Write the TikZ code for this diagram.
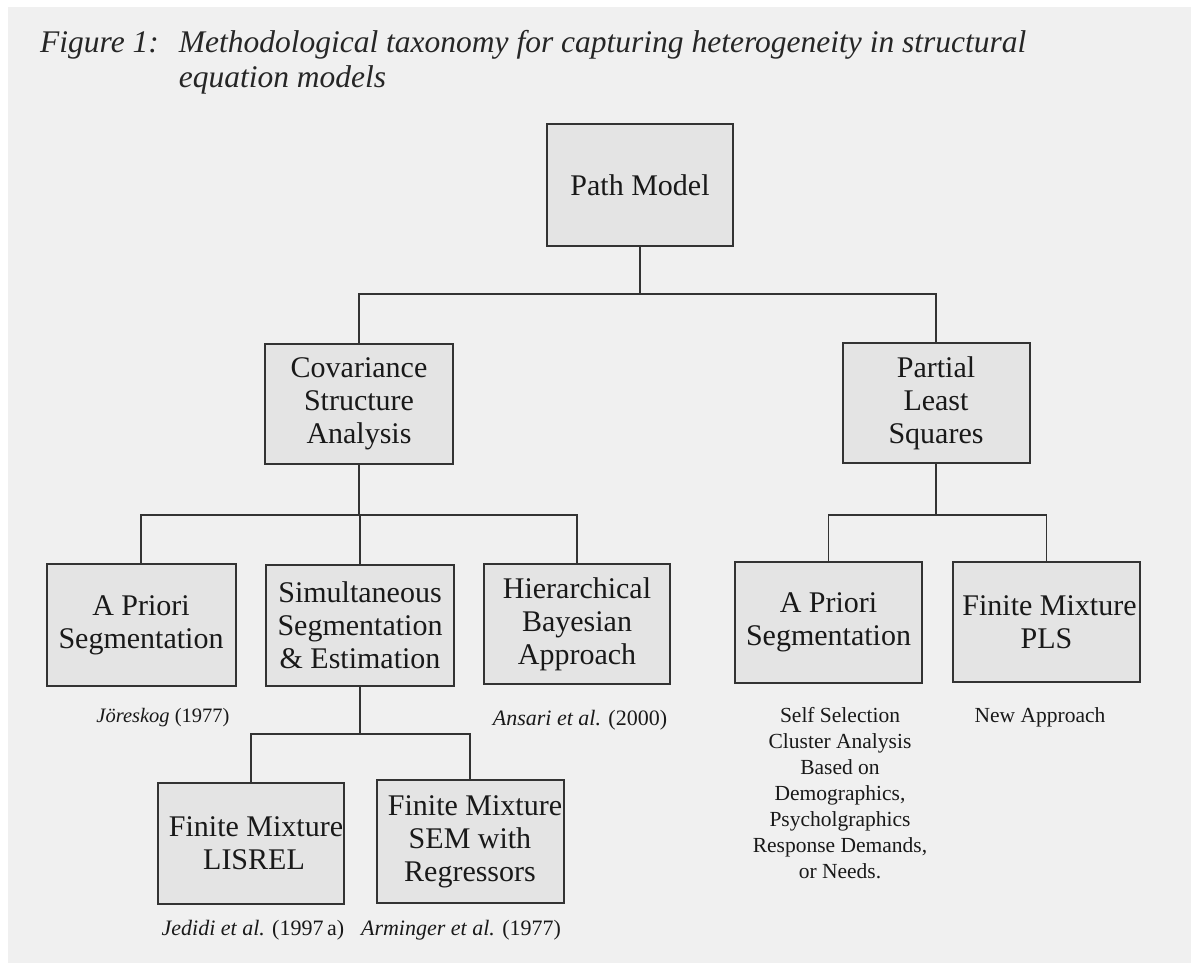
\documentclass[tikz,border=0pt]{standalone}
\usepackage{fontspec}
\setmainfont{Liberation Serif}
\definecolor{pagebg}{HTML}{F0F0F0}
\definecolor{boxfill}{HTML}{E4E4E4}
\definecolor{ink}{HTML}{333333}
\begin{document}
\begin{tikzpicture}[x=1pt,y=-1pt,
  box/.style={draw=ink, line width=2pt, fill=boxfill, align=center, inner sep=0pt,
    font=\fontsize{30}{33}\selectfont, text=black!90},
  conn/.style={draw=ink, line width=1.7pt},
  cite/.style={inner sep=0pt, font=\fontsize{22}{26}\selectfont, text=black!90},
  note/.style={inner sep=0pt, align=center, font=\fontsize{21.5}{26}\selectfont, text=black!90}]
\useasboundingbox (0,0) rectangle (1197,970);
\fill[white] (0,0) rectangle (1197,970);
\fill[pagebg] (8,7) rectangle (1191,963);

% title
\node[anchor=base west, inner sep=0pt, font=\fontsize{31.5}{35}\selectfont\itshape, text=black!85] (title) at (40,52)
  {\begin{tabular}[t]{@{}l@{\hspace{20pt}}l@{}}Figure 1: & Methodological taxonomy for capturing heterogeneity in structural\\
   & equation models\end{tabular}};

% boxes
\node[box, minimum width=186pt, minimum height=122pt] (pm)   at (640,185)   {Path Model};
\node[box, minimum width=188pt, minimum height=120pt] (csa)  at (359,404)   {Covariance\\Structure\\Analysis};
\node[box, minimum width=187pt, minimum height=120pt] (pls)  at (936,403)   {Partial\\Least\\Squares};
\node[box, minimum width=189pt, minimum height=122pt] (aps1) at (141,625)   {A Priori\\Segmentation};
\node[box, minimum width=188pt, minimum height=121pt] (sse)  at (360,625)   {Simultaneous\\Segmentation\\\& Estimation};
\node[box, minimum width=186pt, minimum height=120pt] (hba)  at (577,624)   {Hierarchical\\Bayesian\\Approach};
\node[box, minimum width=186pt, minimum height=121pt] (fml)  at (251,843.5) {\hspace*{10pt}Finite Mixture\\\hspace*{6pt}LISREL};
\node[box, minimum width=187pt, minimum height=123pt] (fms)  at (470,841.5) {\hspace*{10pt}Finite Mixture\\SEM with\\Regressors};
\node[box, minimum width=187pt, minimum height=121pt] (aps2) at (828.5,622.5) {A Priori\\Segmentation};
\node[box, minimum width=187pt, minimum height=120pt] (fmp)  at (1046.5,622) {\hspace*{6pt}Finite Mixture\\PLS};

% connectors
\draw[conn] (pm.south) -- ++(0,47) -| (csa.north);
\draw[conn] (pm.south) -- ++(0,47) -| (pls.north);
\draw[conn] (csa.south) -- ++(0,50) -| (aps1.north);
\draw[conn] (csa.south) -- ++(0,50) -| (sse.north);
\draw[conn] (csa.south) -- ++(0,50) -| (hba.north);
\draw[conn] (sse.south) -- ++(0,47.5) -| (fml.north);
\draw[conn] (sse.south) -- ++(0,47.5) -| (fms.north);
\draw[conn] (pls.south) -- ++(0,51) -| (aps2.north);
\draw[conn] (pls.south) -- ++(0,51) -| (fmp.north);

% citations and notes
\node[cite, font=\fontsize{20.5}{24}\selectfont] (c1) at (163,718) {\textit{Jöreskog} (1977)};
\node[cite] (c2) at (580,720) {\textit{Ansari et al.} (2000)};
\node[cite] (c3) at (253,930) {\textit{Jedidi et al.} (1997\,a)};
\node[cite] (c4) at (461,930) {\textit{Arminger et al.} (1977)};
\node[note] (n1) at (1040,717) {New Approach};
\node[note, anchor=north] (n2) at (840,707) {Self Selection\\Cluster Analysis\\Based on\\Demographics,\\Psycholgraphics\\Response Demands,\\or Needs.};
\end{tikzpicture}
\end{document}
